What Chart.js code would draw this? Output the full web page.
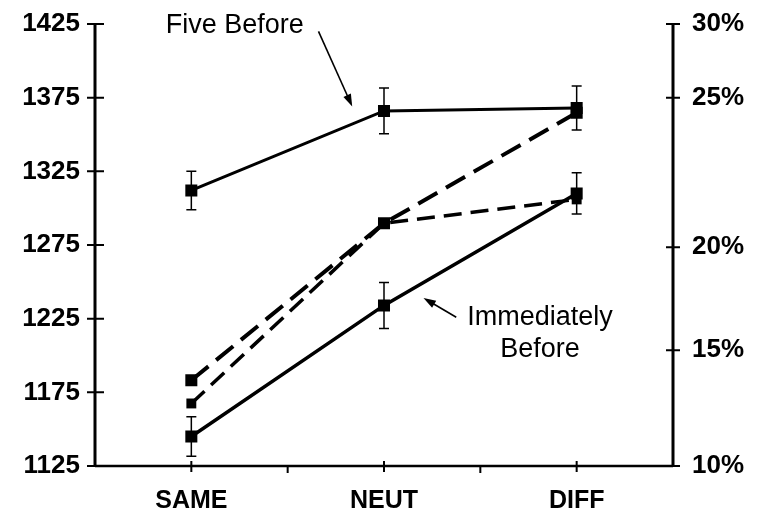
<!DOCTYPE html>
<html>
<head>
<meta charset="utf-8">
<script src="https://cdn.jsdelivr.net/npm/chart.js@4.4.0/dist/chart.umd.min.js"></script>
<style>
  html, body { margin: 0; padding: 0; background: #fff; }
  #wrap { width: 762px; height: 513px; }
</style>
</head>
<body>
<div id="wrap"><canvas id="chart"></canvas></div>
<script>
// Response times (left axis) and error rates (right axis) by condition
const categories = ['SAME', 'NEUT', 'DIFF'];

const fiveBeforeRT   = [1312, 1366, 1368];
const fiveBeforeErr  = [13, 15.5, 15];
const immediateRT    = [1145, 1234, 1310];
const immediateErr   = [13.4, 15.6, 14];

const errorRateUpper = [13.7, 20.8, 24.5];
const errorRateLower = [12.7, 20.8, 21.6];

const rightTickValues = [10, 15, 20, 25, 30];
// the printed right axis is unevenly spaced; where each tick sits along the axis (0 = bottom, 1 = top)
const rightTickSpots  = [0, 0.262, 0.495, 0.833, 1];

const FONT = '"Liberation Sans", Arial, sans-serif';

function toSpot(v) {
  const k = rightTickValues;
  if (v <= k[0]) return rightTickSpots[0];
  for (let i = 1; i < k.length; i++) {
    if (v <= k[i]) {
      const t = (v - k[i - 1]) / (k[i] - k[i - 1]);
      return rightTickSpots[i - 1] + t * (rightTickSpots[i] - rightTickSpots[i - 1]);
    }
  }
  return rightTickSpots[k.length - 1];
}
function fromSpot(d) {
  const s = rightTickSpots;
  for (let i = 1; i < s.length; i++) {
    if (d <= s[i]) {
      const t = (d - s[i - 1]) / (s[i] - s[i - 1]);
      return rightTickValues[i - 1] + t * (rightTickValues[i] - rightTickValues[i - 1]);
    }
  }
  return rightTickValues[rightTickValues.length - 1];
}

// linear scale with piecewise tick spacing
class StretchScale extends Chart.LinearScale {
  getPixelForValue(value) {
    if (value === null || isNaN(value)) return NaN;
    return this.getPixelForDecimal(toSpot(value));
  }
  getValueForPixel(pixel) {
    return fromSpot(this.getDecimalForPixel(pixel));
  }
}
StretchScale.id = 'stretch';
StretchScale.defaults = Chart.LinearScale.defaults;
Chart.register(StretchScale);

// axis lines with crossing tick marks
const axisLines = {
  id: 'axisLines',
  beforeDatasetsDraw(chart) {
    const { ctx, chartArea: a, scales } = chart;
    ctx.save();
    ctx.strokeStyle = '#000';
    ctx.lineCap = 'butt';

    ctx.lineWidth = 3;
    ctx.beginPath();
    ctx.moveTo(a.left, a.top); ctx.lineTo(a.left, a.bottom);
    ctx.moveTo(a.right, a.top); ctx.lineTo(a.right, a.bottom);
    ctx.stroke();
    ctx.lineWidth = 2.5;
    ctx.beginPath();
    ctx.moveTo(a.left, a.bottom); ctx.lineTo(a.right, a.bottom);
    ctx.stroke();

    ctx.lineWidth = 2;
    ctx.beginPath();
    scales.y.ticks.forEach((t, i) => {
      const py = scales.y.getPixelForTick(i);
      ctx.moveTo(a.left - 8, py); ctx.lineTo(a.left + 9, py);
    });
    scales.y2.ticks.forEach((t, i) => {
      const py = scales.y2.getPixelForTick(i);
      ctx.moveTo(a.right - 7, py); ctx.lineTo(a.right + 7, py);
    });
    categories.forEach((c, i) => {
      const px = scales.x.getPixelForValue(i);
      ctx.moveTo(px, a.bottom - 5); ctx.lineTo(px, a.bottom + 6);
      if (i > 0) {
        const bx = scales.x.getPixelForValue(i - 0.5);
        ctx.moveTo(bx, a.bottom); ctx.lineTo(bx, a.bottom + 7);
      }
    });
    ctx.stroke();
    ctx.restore();
  }
};

// vertical error bars with small caps
const errorBars = {
  id: 'errorBars',
  afterDatasetsDraw(chart) {
    const { ctx } = chart;
    ctx.save();
    ctx.strokeStyle = '#000';
    ctx.lineWidth = 1.5;
    chart.data.datasets.forEach((ds, i) => {
      if (!ds.errors) return;
      const meta = chart.getDatasetMeta(i);
      const ys = chart.scales[ds.yAxisID];
      meta.data.forEach((pt, j) => {
        const top = ys.getPixelForValue(ds.data[j] + ds.errors[j]);
        const bot = ys.getPixelForValue(ds.data[j] - ds.errors[j]);
        ctx.beginPath();
        ctx.moveTo(pt.x, top); ctx.lineTo(pt.x, bot);
        ctx.moveTo(pt.x - 5, top); ctx.lineTo(pt.x + 5, top);
        ctx.moveTo(pt.x - 5, bot); ctx.lineTo(pt.x + 5, bot);
        ctx.stroke();
      });
    });
    ctx.restore();
  }
};

function arrow(ctx, x1, y1, x2, y2) {
  const ang = Math.atan2(y2 - y1, x2 - x1);
  const len = 13, spread = 0.32;
  ctx.beginPath();
  ctx.moveTo(x1, y1);
  ctx.lineTo(x2 - Math.cos(ang) * len * 0.8, y2 - Math.sin(ang) * len * 0.8);
  ctx.stroke();
  ctx.beginPath();
  ctx.moveTo(x2, y2);
  ctx.lineTo(x2 - len * Math.cos(ang - spread), y2 - len * Math.sin(ang - spread));
  ctx.lineTo(x2 - len * Math.cos(ang + spread), y2 - len * Math.sin(ang + spread));
  ctx.closePath();
  ctx.fill();
}

// callout labels, placed in data units (category index, left-axis value)
const callouts = {
  id: 'callouts',
  afterDraw(chart) {
    const { ctx, scales: { x, y } } = chart;
    ctx.save();
    ctx.fillStyle = '#000';
    ctx.strokeStyle = '#000';
    ctx.lineWidth = 1.6;
    ctx.font = '27px ' + FONT;
    ctx.textAlign = 'center';
    ctx.textBaseline = 'middle';

    ctx.fillText('Five Before', x.getPixelForValue(0.225), y.getPixelForValue(1424));
    arrow(ctx, x.getPixelForValue(0.66), y.getPixelForValue(1420),
               x.getPixelForValue(0.835), y.getPixelForValue(1369));

    ctx.fillText('Immediately', x.getPixelForValue(1.81), y.getPixelForValue(1226));
    ctx.fillText('Before', x.getPixelForValue(1.81), y.getPixelForValue(1204));
    arrow(ctx, x.getPixelForValue(1.375), y.getPixelForValue(1226),
               x.getPixelForValue(1.205), y.getPixelForValue(1239));
    ctx.restore();
  }
};

const square = (r) => ({ pointStyle: 'rect', pointRadius: r, pointHoverRadius: r,
  pointBackgroundColor: '#000', pointBorderColor: '#000', pointBorderWidth: 0 });

// keep the plot frame fixed: no extra room for overhanging tick labels
const fixBox = (w, h) => (s) => {
  if (w) s.width = w;
  if (h) s.height = h;
  s.paddingTop = 0; s.paddingBottom = 0;
  s.paddingLeft = 0; s.paddingRight = 0;
};

new Chart(document.getElementById('chart'), {
  type: 'line',
  data: {
    labels: categories,
    datasets: [
      {
        label: 'Errors (upper)',
        data: errorRateUpper,
        yAxisID: 'y2',
        borderColor: '#000',
        borderWidth: 4,
        borderDash: [22, 10],
        ...square(8.5)
      },
      {
        label: 'Errors (lower)',
        data: errorRateLower,
        yAxisID: 'y2',
        borderColor: '#000',
        borderWidth: 3.5,
        borderDash: [18, 9],
        ...square(7)
      },
      {
        label: 'Five Before',
        data: fiveBeforeRT,
        errors: fiveBeforeErr,
        yAxisID: 'y',
        borderColor: '#000',
        borderWidth: 3,
        ...square(8.5)
      },
      {
        label: 'Immediately Before',
        data: immediateRT,
        errors: immediateErr,
        yAxisID: 'y',
        borderColor: '#000',
        borderWidth: 3.5,
        ...square(8.5)
      }
    ]
  },
  options: {
    responsive: true,
    maintainAspectRatio: false,
    animation: false,
    events: [],
    layout: { padding: { top: 24, left: 0, right: 0, bottom: 0 } },
    plugins: {
      legend: { display: false },
      tooltip: { enabled: false }
    },
    scales: {
      x: {
        type: 'category',
        offset: true,
        grid: { display: false, drawTicks: false },
        border: { display: false },
        ticks: { color: '#000', padding: 20, font: { family: FONT, size: 25, weight: 'bold' } },
        afterFit: fixBox(0, 47)
      },
      y: {
        position: 'left',
        min: 1125,
        max: 1425,
        grid: { display: false, drawTicks: false },
        border: { display: false },
        ticks: {
          stepSize: 50, color: '#000', padding: 15,
          font: { family: FONT, size: 26, weight: 'bold' },
          callback: (v) => String(v)
        },
        afterFit: fixBox(95, 0)
      },
      y2: {
        type: 'stretch',
        position: 'right',
        min: 10,
        max: 30,
        grid: { display: false, drawTicks: false },
        border: { display: false },
        ticks: {
          stepSize: 5, color: '#000', padding: 19,
          font: { family: FONT, size: 26, weight: 'bold' },
          callback: (v) => v + '%'
        },
        afterFit: fixBox(89, 0)
      }
    }
  },
  plugins: [axisLines, errorBars, callouts]
});
</script>
</body>
</html>
